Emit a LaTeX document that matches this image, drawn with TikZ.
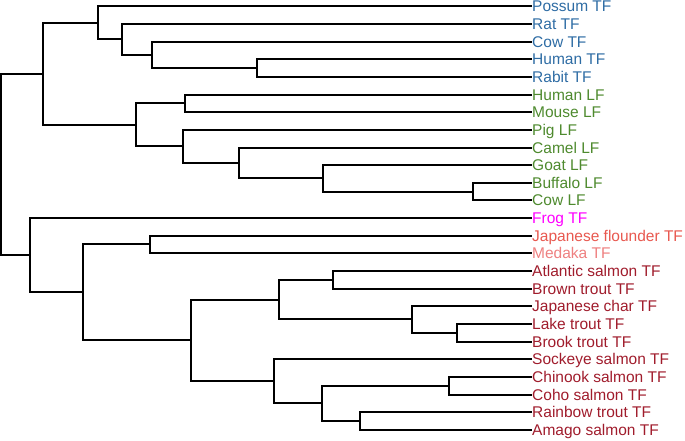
\documentclass[tikz,border=0pt]{standalone}
\usepackage{fontspec}
\setmainfont{Liberation Sans}
\definecolor{cTF}{HTML}{2E6CA4}
\definecolor{cLF}{HTML}{4E8A2E}
\definecolor{cFrog}{HTML}{FF00FF}
\definecolor{cFlo}{HTML}{E8584F}
\definecolor{cMed}{HTML}{EE8080}
\definecolor{cSal}{HTML}{A01C2C}
\begin{document}
\begin{tikzpicture}[x=1pt,y=-1pt,
  br/.style={line width=2pt,black},
  lab/.style={anchor=base west,inner sep=0pt,font=\fontsize{15.5}{18}\selectfont}]
\useasboundingbox (0,0) rectangle (685,440);
% leaf end points
\foreach \n/\y in {l0/6,l1/24,l2/42,l3/59,l4/77,l5/95,l6/112,l7/130,l8/148,l9/165,l10/183,l11/200,l12/218,l13/236,l14/253,l15/271,l16/289,l17/306,l18/324,l19/342,l20/359,l21/377,l22/395,l23/412,l24/430}
  \coordinate (\n) at (532,\y);
% labels
\tikzset{lab0/.style={lab}}
\node[lab,text=cTF] (t0) at ([yshift=-5.5pt]l0) {Possum TF};
\node[lab,text=cTF] (t1) at ([yshift=-5.5pt]l1) {Rat TF};
\node[lab,text=cTF] (t2) at ([yshift=-5.5pt]l2) {Cow TF};
\node[lab,text=cTF] (t3) at ([yshift=-5.5pt]l3) {Human TF};
\node[lab,text=cTF] (t4) at ([yshift=-5.5pt]l4) {Rabit TF};
\node[lab,text=cLF] (t5) at ([yshift=-5.5pt]l5) {Human LF};
\node[lab,text=cLF] (t6) at ([yshift=-5.5pt]l6) {Mouse LF};
\node[lab,text=cLF] (t7) at ([yshift=-5.5pt]l7) {Pig LF};
\node[lab,text=cLF] (t8) at ([yshift=-5.5pt]l8) {Camel LF};
\node[lab,text=cLF] (t9) at ([yshift=-5.5pt]l9) {Goat LF};
\node[lab,text=cLF] (t10) at ([yshift=-5.5pt]l10) {Buffalo LF};
\node[lab,text=cLF] (t11) at ([yshift=-5.5pt]l11) {Cow LF};
\node[lab,text=cFrog] (t12) at ([yshift=-5.5pt]l12) {Frog TF};
\node[lab,text=cFlo] (t13) at ([yshift=-5.5pt]l13) {Japanese flounder TF};
\node[lab,text=cMed] (t14) at ([yshift=-5.5pt]l14) {Medaka TF};
\node[lab,text=cSal] (t15) at ([yshift=-5.5pt]l15) {Atlantic salmon TF};
\node[lab,text=cSal] (t16) at ([yshift=-5.5pt]l16) {Brown trout TF};
\node[lab,text=cSal] (t17) at ([yshift=-5.5pt]l17) {Japanese char TF};
\node[lab,text=cSal] (t18) at ([yshift=-5.5pt]l18) {Lake trout TF};
\node[lab,text=cSal] (t19) at ([yshift=-5.5pt]l19) {Brook trout TF};
\node[lab,text=cSal] (t20) at ([yshift=-5.5pt]l20) {Sockeye salmon TF};
\node[lab,text=cSal] (t21) at ([yshift=-5.5pt]l21) {Chinook salmon TF};
\node[lab,text=cSal] (t22) at ([yshift=-5.5pt]l22) {Coho salmon TF};
\node[lab,text=cSal] (t23) at ([yshift=-5.5pt]l23) {Rainbow trout TF};
\node[lab,text=cSal] (t24) at ([yshift=-5.5pt]l24) {Amago salmon TF};
% internal nodes
\coordinate (D) at (257,68);
\coordinate (C) at (152,55);
\coordinate (B) at (122,39);
\coordinate (A) at (98,23);
\coordinate (F) at (185,103);
\coordinate (J) at (473,192);
\coordinate (I) at (323,178);
\coordinate (H) at (239,163);
\coordinate (G) at (183,146);
\coordinate (E) at (136,125);
\coordinate (T) at (43,74);
\coordinate (M) at (150,244);
\coordinate (P) at (333,280);
\coordinate (R) at (457,333);
\coordinate (Q) at (412,319);
\coordinate (O) at (279,300);
\coordinate (V) at (449,386);
\coordinate (W) at (360,421);
\coordinate (U) at (322,403);
\coordinate (S) at (274,381);
\coordinate (N) at (191,340);
\coordinate (L) at (83,292);
\coordinate (K) at (30,255);
\coordinate (Z) at (1,164);
\coordinate (Z0) at (0,164);
% branches
\draw[br] (l3) -| (D) |- (l4);
\draw[br] (l2) -| (C) |- (D);
\draw[br] (l1) -| (B) |- (C);
\draw[br] (l0) -| (A) |- (B);
\draw[br] (l5) -| (F) |- (l6);
\draw[br] (l10) -| (J) |- (l11);
\draw[br] (l9) -| (I) |- (J);
\draw[br] (l8) -| (H) |- (I);
\draw[br] (l7) -| (G) |- (H);
\draw[br] (F) -| (E) |- (G);
\draw[br] (A) -| (T) |- (E);
\draw[br] (l13) -| (M) |- (l14);
\draw[br] (l15) -| (P) |- (l16);
\draw[br] (l18) -| (R) |- (l19);
\draw[br] (l17) -| (Q) |- (R);
\draw[br] (P) -| (O) |- (Q);
\draw[br] (l21) -| (V) |- (l22);
\draw[br] (l23) -| (W) |- (l24);
\draw[br] (V) -| (U) |- (W);
\draw[br] (l20) -| (S) |- (U);
\draw[br] (O) -| (N) |- (S);
\draw[br] (M) -| (L) |- (N);
\draw[br] (l12) -| (K) |- (L);
\draw[br] (T) -| (Z) |- (K);
\draw[br] (Z0) -- (Z);
\end{tikzpicture}
\end{document}
